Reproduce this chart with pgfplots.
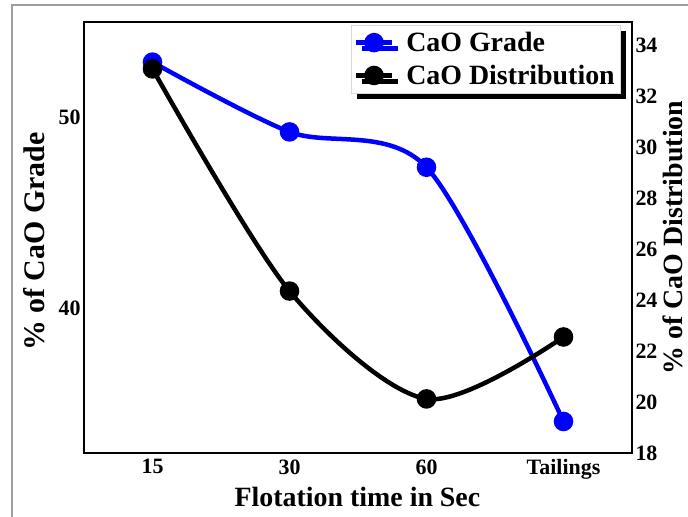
\documentclass[border=0pt]{standalone}
\usepackage{fontspec}
\setmainfont{Liberation Serif}
\usepackage{pgfplots}
\usepackage{pgfplotstable}
\pgfplotsset{compat=1.18}
\usetikzlibrary{shadows}

% CaO grade (left axis) and CaO distribution (right axis)
\pgfplotstableread{
x grade
0 52.9
1 49.25
2 47.4
3 34.1
}\gradetable
\pgfplotstableread{
x dist
0 33.06
1 24.35
2 20.12
3 22.55
}\disttable

\newcommand{\ticksize}{\bfseries\fontsize{22}{24}\selectfont}
\newcommand{\labelsize}{\bfseries\fontsize{28}{30}\selectfont}
\newcommand{\ylabelsize}{\bfseries\fontsize{30}{32}\selectfont}
\newcommand{\rlabelsize}{\bfseries\fontsize{28}{30}\selectfont}

\pgfplotsset{
  common/.style={
    at={(84bp,64bp)}, anchor=south west,
    scale only axis, width=548bp, height=431bp,
    xmin=-0.5, xmax=3.5,
    major tick length=0pt,
    tick label style={font=\ticksize},
    /pgf/number format/assume math mode=true,
    label style={font=\labelsize},
    every axis plot/.append style={line width=4.5bp, smooth, tension=0.5,
      mark=*, mark size=7.5bp, mark options={solid}},
  },
}

\begin{document}
\begin{tikzpicture}
\useasboundingbox (0,0) rectangle (688bp,517bp);
\draw[gray!75, line width=1.3bp] (12bp,-10bp) -- (12bp,512bp) -- (700bp,512bp);

\begin{axis}[
  common,
  ymin=32.45, ymax=55,
  ytick={40,50}, ytick pos=left,
  xtick={0,1,2,3}, xticklabels={15,30,60,Tailings}, xtick pos=bottom,
  xticklabel style={yshift=-3bp},
  axis line style={line width=2.5bp},
  xlabel={Flotation time in Sec},
  ylabel={\% of CaO Grade},
  xlabel style={at={(axis description cs:0.499,-0.102)}, anchor=center},
  ylabel style={at={(axis description cs:-0.0912,0.49)}, anchor=center,
    font=\ylabelsize},
]
\addplot[blue] table[x=x, y=grade] {\gradetable};
\end{axis}

\begin{axis}[
  common,
  ymin=18, ymax=34.9,
  ytick={18,20,...,34},
  axis x line=none,
  axis y line*=right,
  axis line style={draw=none},
  ylabel={\% of CaO Distribution},
  ylabel style={at={(axis description cs:1.074,0.5)}, anchor=center,
    font=\rlabelsize},
  legend style={at={(axis description cs:0.978,0.993)}, anchor=north east,
    draw=gray!30, fill=white, font=\labelsize,
    drop shadow={shadow xshift=6bp, shadow yshift=-6bp, fill=black, opacity=1},
    inner xsep=3bp, inner ysep=5bp, row sep=8bp,
    /tikz/every odd column/.append style={column sep=10bp}},
  legend cell align=left,
  legend image code/.code={%
    \draw[mark repeat=2, mark phase=2, #1]
      plot coordinates {(0bp,0bp) (18bp,0bp) (36bp,0bp)};},
]
\addlegendimage{blue, line width=4.5bp, mark=*, mark size=7.5bp}
\addlegendentry{CaO Grade}
\addplot[black] table[x=x, y=dist] {\disttable};
\addlegendentry{CaO Distribution}
\end{axis}
\end{tikzpicture}
\end{document}
